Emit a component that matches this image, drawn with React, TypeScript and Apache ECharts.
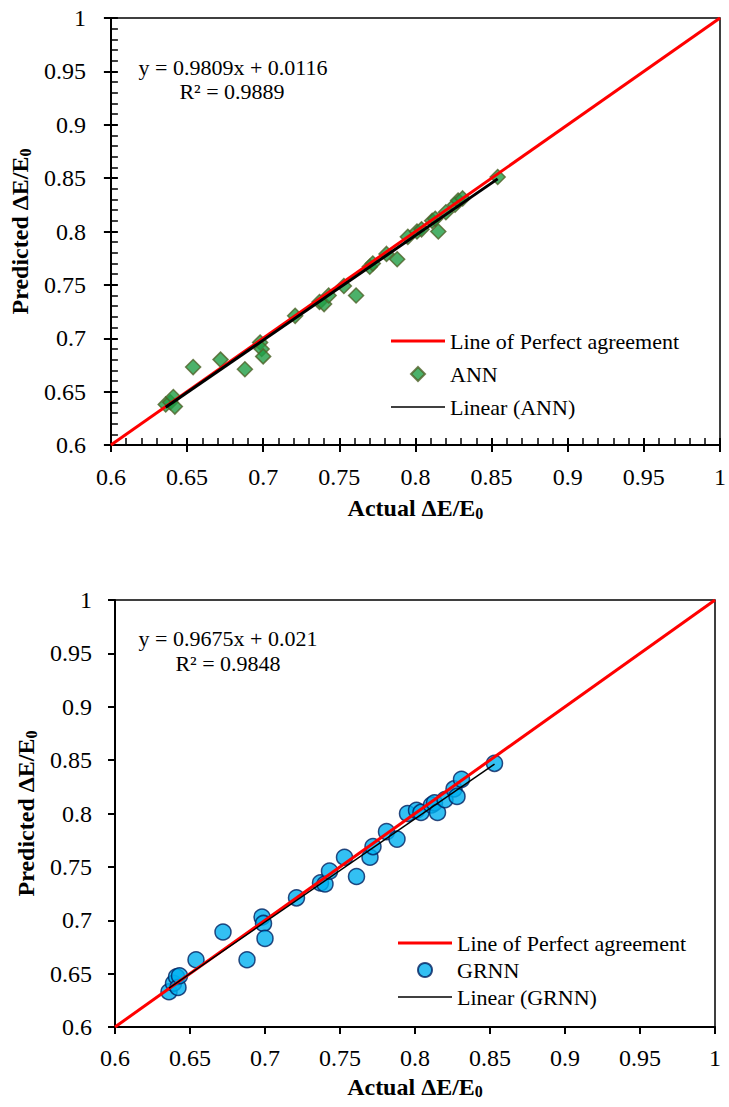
import React, { useEffect, useRef } from "react";
import * as echarts from "echarts";

// ---- Data ----
const annActual = [
  0.636, 0.639, 0.641, 0.642, 0.654, 0.672, 0.688, 0.698, 0.699, 0.7, 0.721,
  0.737, 0.74, 0.743, 0.753, 0.761, 0.77, 0.772, 0.781, 0.788, 0.795, 0.801,
  0.804, 0.811, 0.813, 0.815, 0.82, 0.826, 0.828, 0.831, 0.854,
];
const annPredicted = [
  0.638, 0.64, 0.645, 0.636, 0.673, 0.68, 0.671, 0.696, 0.69, 0.683, 0.721,
  0.734, 0.732, 0.74, 0.749, 0.74, 0.767, 0.77, 0.779, 0.774, 0.795, 0.8,
  0.802, 0.81, 0.812, 0.8, 0.818, 0.825, 0.829, 0.831, 0.851,
];
const grnnActual = [
  0.636, 0.639, 0.641, 0.642, 0.643, 0.654, 0.672, 0.688, 0.698, 0.699, 0.7,
  0.721, 0.737, 0.74, 0.743, 0.753, 0.761, 0.77, 0.772, 0.781, 0.788, 0.795,
  0.801, 0.804, 0.811, 0.813, 0.815, 0.82, 0.826, 0.828, 0.831, 0.853,
];
const grnnPredicted = [
  0.633, 0.641, 0.647, 0.637, 0.648, 0.663, 0.689, 0.663, 0.703, 0.697, 0.683,
  0.721, 0.735, 0.734, 0.746, 0.759, 0.741, 0.759, 0.769, 0.783, 0.776, 0.8,
  0.803, 0.801, 0.808, 0.81, 0.801, 0.813, 0.823, 0.816, 0.832, 0.847,
];
const perfectLine = [
  [0.6, 0.6],
  [1, 1],
];
const annSlope = 0.9809;
const annIntercept = 0.0116;
const grnnSlope = 0.9675;
const grnnIntercept = 0.021;
const annEquation = "y = 0.9809x + 0.0116";
const annR2 = "R² = 0.9889";
const grnnEquation = "y = 0.9675x + 0.021";
const grnnR2 = "R² = 0.9848";
const perfectName = "Line of Perfect agreement";

const SERIF = "Liberation Serif";

const LINE_ICON_THICK = "path://M0 0H54V3H0Z";
const LINE_ICON_THIN = "path://M0 0H54V1.6H0Z";
const DIAMOND_ICON = "path://M7 0L14 7L7 14L0 7Z";

function fitLine(xs: number[], slope: number, intercept: number) {
  const lo = Math.min(...xs);
  const hi = Math.max(...xs);
  return [lo, hi].map((x) => [x, slope * x + intercept]);
}

function mainAxis(name: string, nameGap: number, labelMargin: number) {
  return {
    type: "value",
    min: 0.6,
    max: 1,
    interval: 0.05,
    axisLine: { show: true, lineStyle: { color: "#000", width: 2 } },
    axisTick: { show: true, length: 7, lineStyle: { color: "#000", width: 2 } },
    axisLabel: {
      show: true,
      margin: labelMargin,
      formatter: "{v|{value}}",
      rich: { v: { fontFamily: SERIF, fontSize: 24, color: "#000" } },
    },
    splitLine: { show: false },
    name: `{t|${name}}{s|0}`,
    nameLocation: "middle",
    nameGap,
    nameTextStyle: {
      rich: {
        t: { fontFamily: SERIF, fontSize: 24, fontWeight: "bold", color: "#000" },
        s: { fontFamily: SERIF, fontSize: 16, fontWeight: "bold", color: "#000", padding: [10, 0, 0, 0] },
      },
    },
  };
}

function minorAxis(position: string) {
  return {
    type: "value",
    position,
    min: 0.6,
    max: 1,
    interval: 0.05,
    axisLine: { show: true, lineStyle: { color: "#000", width: 2 } },
    axisTick: { show: true, inside: true, length: 7, lineStyle: { color: "#000", width: 2 } },
    minorTick: { show: true, splitNumber: 5, length: 7, lineStyle: { color: "#000", width: 1.5 } },
    axisLabel: { show: false },
    splitLine: { show: false },
  };
}

const eqText = (x: number, y: number, text: string) => ({
  type: "text",
  x,
  y,
  style: { text, fontFamily: SERIF, fontSize: 22, fill: "#000", textAlign: "center", textVerticalAlign: "middle" },
});

type PanelCfg = {
  grid: { left: number; top: number; width: number; height: number };
  withMinor: boolean;
  xNameGap: number;
  yNameGap: number;
  xMargin: number;
  yMargin: number;
  legendLeft: number;
  legendTop: number;
  legendGap: number;
  modelName: string;
  linearName: string;
  actual: number[];
  predicted: number[];
  slope: number;
  intercept: number;
  symbol: string;
  legendIcon: string;
  symbolSize: number;
  fill: string;
  border: string;
  fitWidth: number;
  eq: [number, number, string][];
};

function buildOption(c: PanelCfg) {
  const pts = c.actual.map((x, i) => [x, c.predicted[i]]);
  return {
    animation: false,
    textStyle: { fontFamily: SERIF },
    grid: { ...c.grid, show: true, borderColor: "#000", borderWidth: 1.5 },
    xAxis: c.withMinor
      ? [mainAxis("Actual ΔE/E", c.xNameGap, c.xMargin), minorAxis("bottom")]
      : [mainAxis("Actual ΔE/E", c.xNameGap, c.xMargin)],
    yAxis: c.withMinor
      ? [mainAxis("Predicted ΔE/E", c.yNameGap, c.yMargin), minorAxis("left")]
      : [mainAxis("Predicted ΔE/E", c.yNameGap, c.yMargin)],
    legend: {
      orient: "vertical",
      left: c.legendLeft,
      top: c.legendTop,
      itemWidth: 54,
      itemHeight: 14,
      itemGap: c.legendGap,
      symbolKeepAspect: true,
      textStyle: { fontFamily: SERIF, fontSize: 22, color: "#000", lineHeight: 22 },
      data: [
        { name: perfectName, icon: LINE_ICON_THICK },
        { name: c.modelName, icon: c.legendIcon },
        { name: c.linearName, icon: LINE_ICON_THIN },
      ],
    },
    graphic: c.eq.map(([x, y, t]) => eqText(x, y, t)),
    series: [
      {
        name: perfectName,
        type: "line",
        data: perfectLine,
        symbol: "none",
        itemStyle: { color: "#ff0000" },
        lineStyle: { color: "#ff0000", width: 3 },
      },
      {
        name: c.modelName,
        type: "scatter",
        data: pts,
        symbol: c.symbol,
        symbolSize: c.symbolSize,
        itemStyle: { color: c.fill, borderColor: c.border, borderWidth: 1.5 },
      },
      {
        name: c.linearName,
        type: "line",
        data: fitLine(c.actual, c.slope, c.intercept),
        symbol: "none",
        itemStyle: { color: "#000" },
        lineStyle: { color: "#000", width: c.fitWidth },
      },
    ],
  };
}

const topCfg: PanelCfg = {
  grid: { left: 110, top: 18, width: 614, height: 427 },
  withMinor: true,
  xNameGap: 50,
  yNameGap: 72,
  xMargin: 20,
  yMargin: 25,
  legendLeft: 386,
  legendTop: 325,
  legendGap: 11,
  modelName: "ANN",
  linearName: "Linear (ANN)",
  actual: annActual,
  predicted: annPredicted,
  slope: annSlope,
  intercept: annIntercept,
  symbol: "diamond",
  legendIcon: DIAMOND_ICON,
  symbolSize: 15,
  fill: "#1f9e45",
  border: "#4f6228",
  fitWidth: 3,
  eq: [
    [233, 67, annEquation],
    [232, 91, annR2],
  ],
};

const BOTTOM_TOP = 553;
const bottomCfg: PanelCfg = {
  grid: { left: 115, top: 600 - BOTTOM_TOP, width: 600, height: 427 },
  withMinor: false,
  xNameGap: 44,
  yNameGap: 74,
  xMargin: 19,
  yMargin: 23,
  legendLeft: 393,
  legendTop: 927 - BOTTOM_TOP,
  legendGap: 5,
  modelName: "GRNN",
  linearName: "Linear (GRNN)",
  actual: grnnActual,
  predicted: grnnPredicted,
  slope: grnnSlope,
  intercept: grnnIntercept,
  symbol: "circle",
  legendIcon: "circle",
  symbolSize: 16,
  fill: "#00b0f0",
  border: "#002060",
  fitWidth: 1.5,
  eq: [
    [228, 638 - BOTTOM_TOP, grnnEquation],
    [228, 663 - BOTTOM_TOP, grnnR2],
  ],
};

function Panel({ cfg, top, height }: { cfg: PanelCfg; top: number; height: number }) {
  const ref = useRef<HTMLDivElement>(null);
  useEffect(() => {
    if (!ref.current) return;
    const chart = echarts.init(ref.current, undefined, { renderer: "svg" });
    chart.setOption(buildOption(cfg));
    return () => chart.dispose();
  }, [cfg]);
  return (
    <div
      ref={ref}
      style={{ position: "absolute", left: 0, top, width: 729, height, background: "#fff" }}
    />
  );
}

export default function App() {
  return (
    <div style={{ position: "absolute", left: 0, top: 0, width: 729, height: 1107, background: "#fff" }}>
      <Panel cfg={topCfg} top={0} height={BOTTOM_TOP} />
      <Panel cfg={bottomCfg} top={BOTTOM_TOP} height={1107 - BOTTOM_TOP} />
    </div>
  );
}
